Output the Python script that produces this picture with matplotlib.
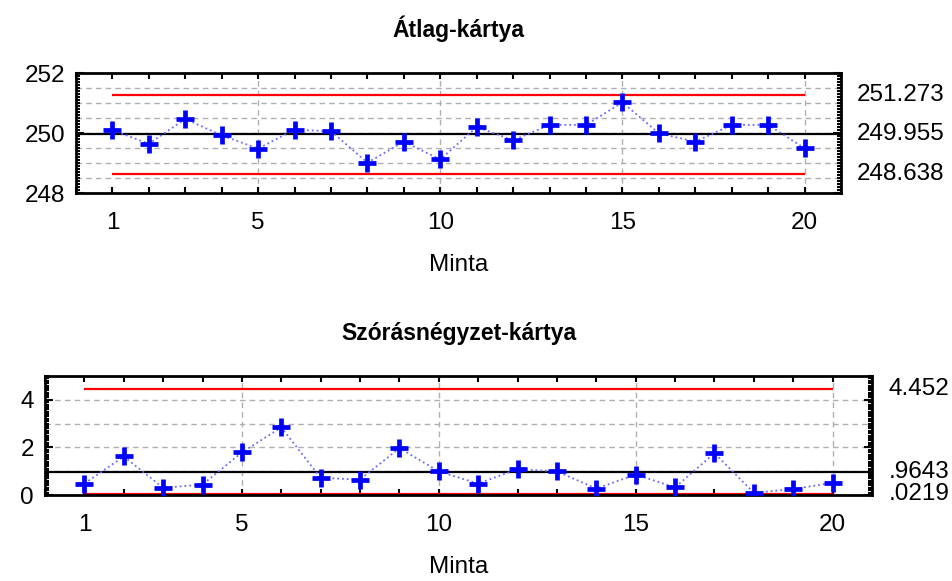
import matplotlib
matplotlib.use("Agg")
import matplotlib.pyplot as plt
from matplotlib.ticker import MultipleLocator, FixedLocator
import numpy as np

plt.rcParams["font.family"] = ["Liberation Sans", "DejaVu Sans"]

# ---- dados ----
minta = list(range(1, 21))
atlag = [250.10, 249.64, 250.47, 249.92, 249.48, 250.11, 250.06, 249.01, 249.71, 249.12,
         250.20, 249.76, 250.27, 250.27, 251.02, 249.99, 249.71, 250.27, 250.27, 249.49]
atlag_ucl, atlag_cl, atlag_lcl = 251.273, 249.955, 248.638
atlag_right = ["251.273", "249.955", "248.638"]

szoras = [0.48, 1.62, 0.30, 0.44, 1.79, 2.84, 0.72, 0.65, 1.97, 0.99,
          0.48, 1.09, 0.99, 0.27, 0.86, 0.32, 1.76, 0.09, 0.25, 0.51]
szoras_ucl, szoras_cl, szoras_lcl = 4.452, 0.9643, 0.0219
szoras_right = ["4.452", ".9643", ".0219"]

FS = 17.5
fig = plt.figure(figsize=(9.52, 5.81), dpi=100)
ax1 = fig.add_axes([76 / 952, 1 - 193 / 581, 765 / 952, 120 / 581])
ax2 = fig.add_axes([45 / 952, 1 - 495 / 581, 827 / 952, 119 / 581])


def chart(ax, y, ucl, cl, lcl, labels, ylim, grid_step, yticks, title):
    ax.set_xlim(0, 21)
    ax.set_ylim(*ylim)
    # grade
    for g in np.arange(ylim[0] + grid_step, ylim[1], grid_step):
        ax.axhline(g, color="#b0b0b0", ls=(0, (4, 3)), lw=1.0, zorder=1)
    for g in [5, 10, 15, 20]:
        ax.axvline(g, color="#b0b0b0", ls=(0, (4, 3)), lw=1.0, zorder=1)
    # limites
    ax.axhline(cl, color="black", lw=1.6, zorder=2)
    ax.hlines([ucl, lcl], 1, 20, color="red", lw=1.6, zorder=2)
    ax.plot(minta, y, color="#6a6aff", ls=":", lw=1.3, zorder=3)
    ax.plot(minta, y, ls="none", marker="+", color="blue", ms=13, mew=3.4, zorder=4)
    for v, t in zip([ucl, cl, lcl], labels):
        ax.text(1.02, v, t, transform=ax.get_yaxis_transform(), ha="left",
                va="center", fontsize=FS)
    ax.xaxis.set_major_locator(FixedLocator([1, 5, 10, 15, 20]))
    ax.xaxis.set_minor_locator(MultipleLocator(1))
    ax.yaxis.set_major_locator(FixedLocator(yticks))
    ax.yaxis.set_minor_locator(MultipleLocator(0.1))
    ax.tick_params(which="both", direction="in", top=True, right=True,
                   width=1.5, labelsize=FS)
    ax.tick_params(axis="x", which="both", length=4, pad=14)
    ax.tick_params(axis="y", which="major", length=6, pad=8)
    ax.tick_params(axis="y", which="minor", length=3)
    for s in ax.spines.values():
        s.set_linewidth(2)
    ax.set_xlabel("Minta", fontsize=FS, labelpad=14)
    ax.set_title(title, fontsize=16.5, fontweight="bold", pad=26)


chart(ax1, atlag, atlag_ucl, atlag_cl, atlag_lcl, atlag_right,
      (248, 252), 0.5, [248, 250, 252], "Átlag-kártya")
chart(ax2, szoras, szoras_ucl, szoras_cl, szoras_lcl, szoras_right,
      (0, 5), 1.0, [0, 2, 4], "Szórásnégyzet-kártya")

fig.savefig("out.png", dpi=100)
